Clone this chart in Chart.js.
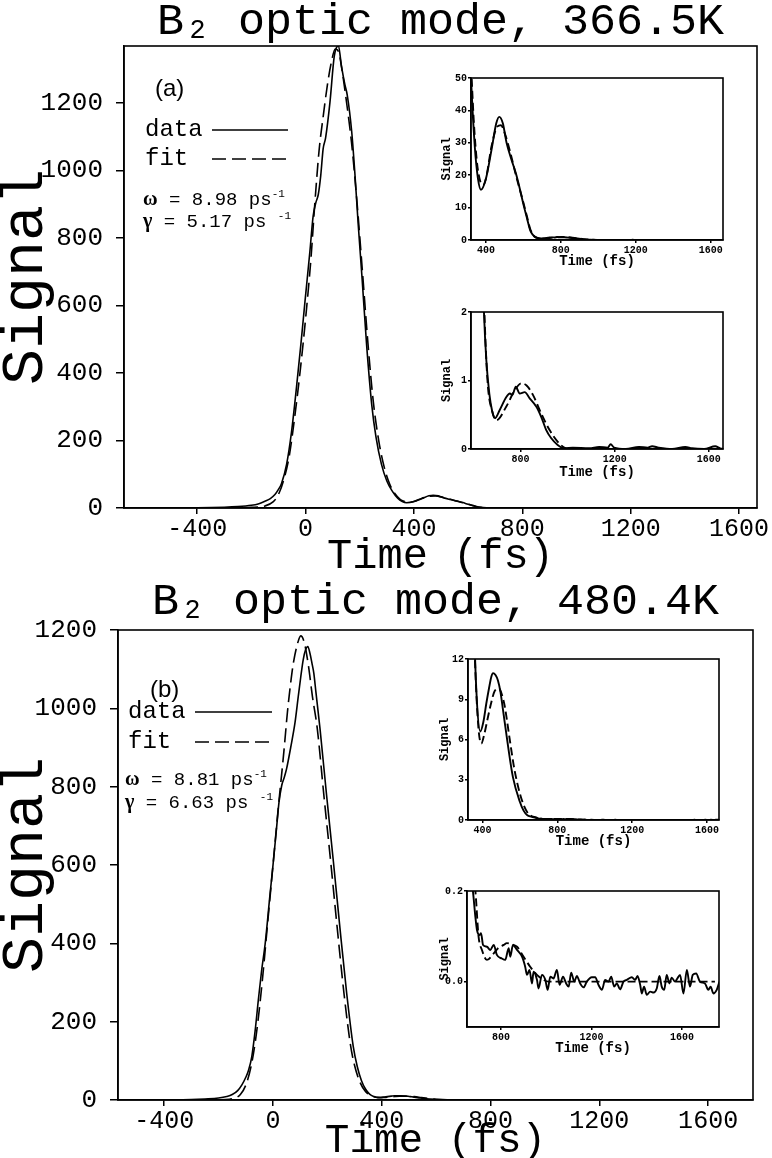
<!DOCTYPE html>
<html>
<head>
<meta charset="utf-8">
<script src="https://cdn.jsdelivr.net/npm/chart.js@4.4.1/dist/chart.umd.min.js"></script>
<style>
html,body{margin:0;padding:0;background:#fff;}
#wrap{position:relative;width:772px;height:1158px;background:#fff;overflow:hidden;}
#wrap canvas{position:absolute;}
</style>
</head>
<body>
<div id="wrap">
  <canvas id="mainA" width="772" height="580" style="left:0px;top:0px"></canvas>
  <canvas id="mainB" width="772" height="583" style="left:0px;top:575px"></canvas>
  <canvas id="insA1" width="300" height="200" style="left:430px;top:70px"></canvas>
  <canvas id="insA2" width="300" height="180" style="left:430px;top:300px"></canvas>
  <canvas id="insB1" width="300" height="200" style="left:425px;top:650px"></canvas>
  <canvas id="insB2" width="300" height="175" style="left:425px;top:880px"></canvas>
</div>
<script>
// ================= DATA =================
// Panel (a) 366.5K : measured signal
const timeDataA = [-670,-400,-300,-250,-200,-175,-150,-130,-113,-100,-89,-70,-52,-33,-17,-2,16,28,38,47,56,65,74,90,106,121,133,145,154,170,182,194,209,225,244,260,280,300,320,340,357,373,400,430,455,471,490,510,535,560,580,600,620,635,645,655,668,680,692,712,740,755,766,780,797,818,839,867,888,909,930,958,987,1022,1092,1134,1170,1183,1198,1247,1303,1340,1359,1387,1444,1500,1528,1580,1627,1648,1666];
const signalDataA = [0,0.5,2,4,8,12,20,28,40,55,72,129,224,361,487,613,760,865,905,929,985,1065,1097,1202,1339,1370,1307,1255,1223,1118,992,844,676,487,308,210,130,80,50,29,19,15.5,19,28,36,38,36,30,25,20.5,16,11,6.5,3.2,2.0,1.3,0.8,0.55,0.45,0.57,0.76,0.81,0.79,0.91,0.81,0.83,0.74,0.62,0.47,0.28,0.16,0.06,0.01,0.02,0.01,0.03,0.02,0.07,0.02,0,0.03,0.02,0.04,0.02,0,0.03,0.01,0,0.04,0.01,0];
// Panel (a) fit
const timeFitA = [-670,-300,-200,-150,-120,-100,-80,-60,-40,-20,0,20,34,50,65,80,95,110,122,135,150,170,190,210,230,250,270,290,310,330,350,370,385,400,430,460,480,500,530,560,600,620,635,645,660,680,698,740,776,804,825,853,888,923,965,994,1020,1666];
const signalFitA = [0,0.5,2,6,18,40,85,155,270,405,560,740,900,1060,1160,1250,1320,1360,1352,1295,1210,1080,905,700,490,315,200,122,72,42,25,18,17,19,29,35,35.4,33,27,20,11.5,7,3.6,2.2,1.0,0.55,0.42,0.62,0.86,0.96,0.93,0.79,0.52,0.28,0.08,0.01,0,0];

// Panel (b) 480.4K : measured signal
const timeDataB = [-570,-400,-300,-250,-200,-170,-150,-130,-115,-100,-90,-78,-66,-54,-42,-29,-11,0,13,22,32,42,50,65,81,93,102,111,120,128,136,143,150,158,173,197,222,246,271,295,310,325,340,355,370,389,405,421,435,448,457,470,483,497,510,537,563,599,620,640,660,676,687,694,706,712,721,738,753,768,782,804,819,834,841,853,871,893,907,915,926,937,944,959,966,981,996,1006,1018,1032,1047,1059,1074,1088,1099,1110,1124,1135,1150,1165,1179,1201,1216,1231,1246,1260,1275,1287,1300,1312,1326,1341,1356,1378,1393,1403,1415,1422,1432,1444,1459,1474,1488,1500,1510,1521,1532,1544,1554,1569,1579,1591,1606,1621,1635,1647,1662,1679,1701,1716,1726,1738,1753,1765];
const signalDataB = [0,0.3,1,2.5,5,9,14,24,38,58,76,111,175,255,330,398,525,600,694,760,803,825,846,900,964,1031,1080,1124,1150,1158,1140,1116,1090,1040,947,778,609,440,272,137,85,50,28,15,9,6.6,7.3,8.7,9.8,10.7,10.95,10.8,10.4,9.5,8.2,5.5,3.2,1.4,0.7,0.35,0.25,0.2,0.143,0.114,0.103,0.107,0.081,0.077,0.07,0.081,0.059,0.051,0.048,0.074,0.055,0.081,0.07,0.055,0.033,0.015,0.026,-0.004,0.022,0.004,-0.015,0.015,0.004,-0.018,0.011,0.007,0.026,-0.007,0.011,-0.004,-0.011,0.02,0,0.0125,-0.004,-0.0125,0,0.0096,0.0096,-0.0074,-0.018,0.0037,0,0.011,-0.011,-0.004,-0.017,0,0.004,0.0096,0.004,0.0125,-0.007,-0.026,-0.011,-0.029,-0.022,-0.024,-0.015,0.0125,-0.011,-0.018,0.015,-0.004,0.009,0,0.007,0.015,-0.026,0.026,-0.011,0.015,0.018,0,-0.004,-0.018,-0.011,-0.026,-0.018,0];
// Panel (b) fit
const timeFitB = [-570,-300,-200,-160,-140,-120,-100,-80,-60,-40,-20,0,20,40,53,65,75,90,102,115,130,145,163,187,212,236,261,285,300,320,340,360,378,394,410,430,448,465,489,505,519,546,572,608,643,665,687,701,716,738,768,790,812,826,850,871,900,929,959,988,1010,1745];
const signalFitB = [0,0,0.5,2,5,14,38,88,175,300,450,600,750,890,990,1065,1116,1165,1185,1168,1110,1030,947,778,609,440,272,140,88,45,22,12,7,5.7,6.4,7.7,8.8,9.6,9.8,9.3,8.5,6.0,3.7,1.6,0.5,0.28,0.2,0.1,0.07,0.048,0.0625,0.075,0.081,0.085,0.082,0.077,0.055,0.033,0.015,0.004,0,0];

// Tick values
const mainXTicks = [-400,0,400,800,1200,1600];
const mainYTicks = [0,200,400,600,800,1000,1200];
const insA1XTicks = [400,800,1200,1600];
const insA1YTicks = [0,10,20,30,40,50];
const insA2XTicks = [800,1200,1600];
const insA2YTicks = [0,1,2];
const insB1XTicks = [400,800,1200,1600];
const insB1YTicks = [0,3,6,9,12];
const insB2XTicks = [800,1200,1600];
const insB2YTicks = [0,0.2];

// Texts
const seriesLabels = ['data','fit'];
const panelTitles = ['B\u2082 optic mode, 366.5K','B\u2082 optic mode, 480.4K'];
const panelTags = ['(a)','(b)'];
const omegaValues = ['8.98','8.81'];
const gammaValues = ['5.17','6.63'];
const xAxisTitle = 'Time (fs)';
const yAxisTitle = 'Signal';

// ================= RENDERING =================
const MONO = "'Liberation Mono','DejaVu Sans Mono',monospace";
Chart.defaults.color = '#000';
Chart.defaults.font.family = MONO;

const pts = (ts, ss) => ts.map((t, i) => ({x: t, y: ss[i]}));

function makeDatasets(td, sd, tf, sf, width, dash) {
  return [
    {label: seriesLabels[0], data: pts(td, sd), borderColor: '#000', borderWidth: width,
     pointRadius: 0, fill: false, cubicInterpolationMode: 'monotone'},
    {label: seriesLabels[1], data: pts(tf, sf), borderColor: '#000', borderWidth: width,
     borderDash: dash, pointRadius: 0, fill: false, cubicInterpolationMode: 'monotone'}
  ];
}

const framePlugin = {
  id: 'frame',
  afterDatasetsDraw(chart, args, opts) {
    const {ctx, chartArea: a} = chart;
    ctx.save();
    ctx.strokeStyle = '#000';
    ctx.lineWidth = opts.width || 1.5;
    ctx.setLineDash([]);
    ctx.strokeRect(a.left, a.top, a.right - a.left, a.bottom - a.top);
    ctx.restore();
  }
};

const notesPlugin = {
  id: 'notes',
  afterDraw(chart, args, o) {
    if (!o || !o.tag) return;
    const ctx = chart.ctx;
    ctx.save();
    ctx.fillStyle = '#000';
    ctx.strokeStyle = '#000';
    ctx.textBaseline = 'middle';
    ctx.textAlign = 'left';
    ctx.font = "24px 'Liberation Sans', sans-serif";
    ctx.fillText(o.tag, o.tagX, o.tagY);
    ctx.font = '24px ' + MONO;
    chart.data.datasets.forEach((d, i) => {
      const y = o.legY + i * o.legGap;
      ctx.fillText(d.label, o.legX, y);
      ctx.setLineDash(d.borderDash || []);
      ctx.lineWidth = 1.5;
      ctx.beginPath();
      ctx.moveTo(o.lineX0, y);
      ctx.lineTo(o.lineX1, y);
      ctx.stroke();
    });
    ctx.setLineDash([]);
    const rows = [['\u03c9', o.omega, ''], ['\u03b3', o.gamma, ' ']];
    rows.forEach((r, i) => {
      const y = o.parY + i * o.parGap;
      let x = o.parX;
      ctx.font = "bold 20px 'Liberation Serif', serif";
      ctx.fillText(r[0], x, y);
      x += ctx.measureText(r[0]).width;
      ctx.font = '19px ' + MONO;
      const s = ' = ' + r[1] + ' ps' + r[2];
      ctx.fillText(s, x, y);
      x += ctx.measureText(s).width;
      ctx.font = '11px ' + MONO;
      ctx.fillText('-1', x, y - 6);
    });
    ctx.restore();
  }
};

function linAxis(min, max, ticks, c) {
  return {
    type: 'linear', min: min, max: max,
    afterBuildTicks: s => { s.ticks = ticks.map(v => ({value: v})); },
    afterFit: s => { if (c.w !== undefined) s.width = c.w; if (c.h !== undefined) s.height = c.h; },
    ticks: {
      font: {family: MONO, size: c.fs, weight: c.bold ? 'bold' : 'normal'},
      color: '#000', padding: c.tp, maxRotation: 0, minRotation: 0, autoSkip: false,
      callback: c.fmt || (v => String(v))
    },
    grid: {display: true, drawOnChartArea: false, drawTicks: true, tickLength: c.tl,
           color: '#000', lineWidth: 1.5},
    border: {display: true, color: '#000', width: 1.5},
    title: {display: true, text: c.title,
            font: {family: MONO, size: c.ts, weight: c.bold ? 'bold' : 'normal', lineHeight: 1},
            color: '#000', padding: c.tpad}
  };
}

function mainChart(id, td, sd, tf, sf, cfg) {
  return new Chart(document.getElementById(id), {
    type: 'line',
    data: {datasets: makeDatasets(td, sd, tf, sf, 1.6, [14, 6])},
    options: {
      responsive: false, animation: false, events: [],
      layout: {padding: {left: 0, right: cfg.padR, top: 0, bottom: 0}},
      plugins: {
        legend: {display: false}, tooltip: {enabled: false},
        title: {display: true, text: cfg.title, fullSize: false, color: '#000',
                font: {family: MONO, size: 45, weight: 'normal', lineHeight: 1},
                padding: cfg.titlePad},
        frame: {width: 1.6},
        notes: cfg.notes
      },
      scales: {
        x: linAxis(cfg.xmin, cfg.xmax, mainXTicks,
          {h: cfg.xh, fs: 25, tp: 0, tl: 6, title: xAxisTitle, ts: cfg.xts, tpad: {top: 0, bottom: cfg.xtpb}}),
        y: linAxis(0, cfg.ymax, mainYTicks,
          {w: cfg.yw, fs: 26, tp: 13, tl: 8, title: yAxisTitle, ts: 60, tpad: {top: -4, bottom: 0}})
      }
    },
    plugins: [framePlugin, notesPlugin]
  });
}

function insetChart(id, td, sd, tf, sf, cfg) {
  return new Chart(document.getElementById(id), {
    type: 'line',
    data: {datasets: makeDatasets(td, sd, tf, sf, 1.9, [8, 4])},
    options: {
      responsive: false, animation: false, events: [],
      layout: {padding: {left: 0, right: cfg.padR, top: cfg.padT, bottom: 0}},
      plugins: {legend: {display: false}, tooltip: {enabled: false}, title: {display: false},
                frame: {width: 1.6}},
      scales: {
        x: linAxis(cfg.xmin, cfg.xmax, cfg.xt,
          {h: cfg.xh, fs: 10, bold: true, tp: 1, tl: 3, title: xAxisTitle, ts: 14,
           tpad: {top: 0, bottom: cfg.xtpb}}),
        y: linAxis(cfg.ymin, cfg.ymax, cfg.yt,
          {w: cfg.yw, fs: 10, bold: true, tp: 1, tl: 3, title: yAxisTitle, ts: 12,
           tpad: {top: cfg.ytpt, bottom: 0}, fmt: cfg.fmt})
      }
    },
    plugins: [framePlugin]
  });
}

mainChart('mainA', timeDataA, signalDataA, timeFitA, signalFitA, {
  title: panelTitles[0], titlePad: {top: 0, bottom: 1},
  xmin: -670, xmax: 1666, ymax: 1369, padR: 15, yw: 124, xh: 72, xtpb: 2, xts: 42,
  notes: {tag: panelTags[0], tagX: 155, tagY: 89, legX: 145, legY: 130, legGap: 29,
          lineX0: 212, lineX1: 288, omega: omegaValues[0], gamma: gammaValues[0],
          parX: 143, parY: 200, parGap: 22}
});

mainChart('mainB', timeDataB, signalDataB, timeFitB, signalFitB, {
  title: panelTitles[1], titlePad: {top: 5, bottom: 5},
  xmin: -570, xmax: 1765, ymax: 1200, padR: 19, yw: 118, xh: 58, xtpb: -4, xts: 41,
  notes: {tag: panelTags[1], tagX: 150, tagY: 115, legX: 128, legY: 137, legGap: 30,
          lineX0: 195, lineX1: 272, omega: omegaValues[1], gamma: gammaValues[1],
          parX: 125, parY: 205, parGap: 23}
});

insetChart('insA1', timeDataA, signalDataA, timeFitA, signalFitA, {
  xmin: 320, xmax: 1666, xt: insA1XTicks, ymin: 0, ymax: 50, yt: insA1YTicks,
  padR: 7, padT: 8, yw: 41, xh: 30, xtpb: 2, ytpt: 11
});
insetChart('insA2', timeDataA, signalDataA, timeFitA, signalFitA, {
  xmin: 590, xmax: 1660, xt: insA2XTicks, ymin: 0, ymax: 2, yt: insA2YTicks,
  padR: 7, padT: 12, yw: 41, xh: 31, xtpb: 1, ytpt: 11
});
insetChart('insB1', timeDataB, signalDataB, timeFitB, signalFitB, {
  xmin: 323, xmax: 1664, xt: insB1XTicks, ymin: 0, ymax: 12, yt: insB1YTicks,
  padR: 6, padT: 9, yw: 43, xh: 30, xtpb: 2, ytpt: 14
});
insetChart('insB2', timeDataB, signalDataB, timeFitB, signalFitB, {
  xmin: 650, xmax: 1763, xt: insB2XTicks, ymin: -0.1, ymax: 0.2, yt: insB2YTicks,
  padR: 6, padT: 11, yw: 42, xh: 28, xtpb: 0, ytpt: 14, fmt: v => v.toFixed(1)
});
</script>
</body>
</html>
